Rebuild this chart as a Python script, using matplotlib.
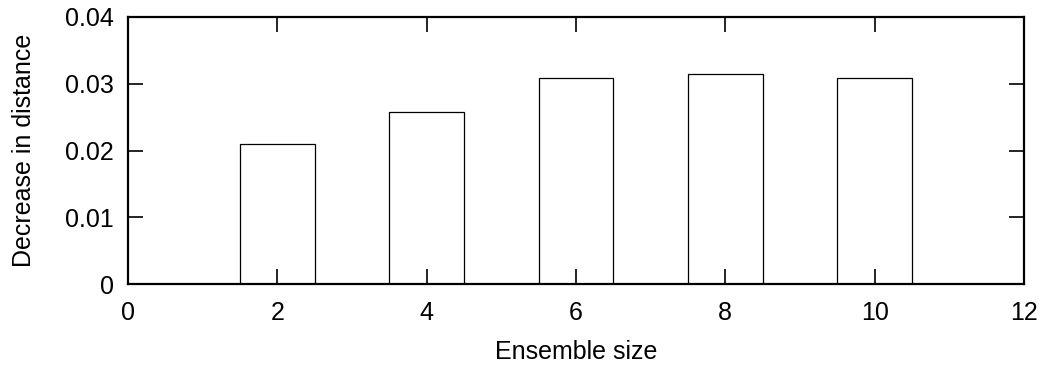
import numpy as np
import matplotlib
matplotlib.use("Agg")
import matplotlib.pyplot as plt

plt.rcParams['font.family'] = ['Liberation Sans', 'DejaVu Sans']

# ensemble sizes and the decrease in distance for each
ensembleSize = [2, 4, 6, 8, 10]
decrease = [0.0209, 0.0258, 0.0308, 0.0315, 0.0308]

fig = plt.figure(figsize=(10.47, 3.65), dpi=100)
ax = fig.add_axes([128/1047, 1-284/365, (1024-128)/1047, (284-17)/365])

ax.bar(ensembleSize, decrease, width=1.0, color='white', edgecolor='black', linewidth=0.9, zorder=1)

ax.set_xlim(0, 12)
ax.set_ylim(0, 0.04)
ax.set_xticks([0, 2, 4, 6, 8, 10, 12])
ax.set_yticks([0, 0.01, 0.02, 0.03, 0.04])
ax.set_yticklabels(['0', '0.01', '0.02', '0.03', '0.04'])
ax.tick_params(direction='in', length=11, width=1.2, top=True, right=True, labelsize=18)
ax.tick_params(axis='x', pad=12)
ax.tick_params(axis='y', pad=10)
for s in ax.spines.values():
    s.set_linewidth(1.6)
    s.set_zorder(3)

ax.set_xlabel('Ensemble size', fontsize=18, labelpad=11)
ax.set_ylabel('Decrease in distance', fontsize=18, labelpad=21)

plt.savefig('out.png', dpi=100)
